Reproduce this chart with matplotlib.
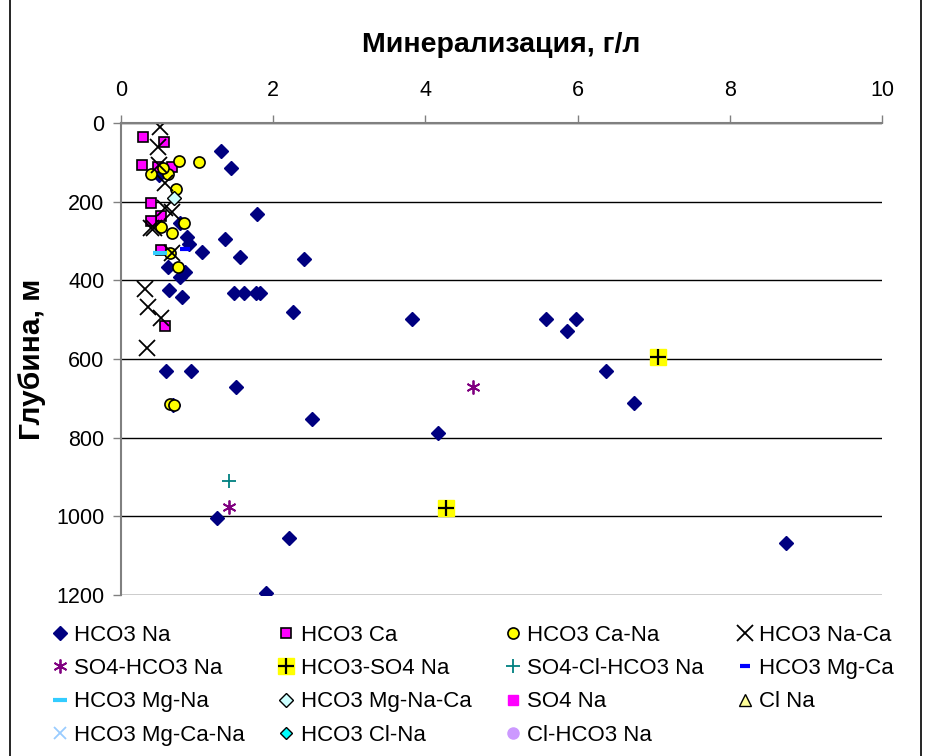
import matplotlib
matplotlib.use("Agg")
import matplotlib.pyplot as plt
from matplotlib.patches import Rectangle
from matplotlib.legend_handler import HandlerTuple

plt.rcParams['font.family'] = ['Liberation Sans', 'DejaVu Sans']

# минерализация (г/л) и глубина (м) по типам вод
hco3_na_x = [1.31, 1.45, 1.79, 1.37, 1.56, 1.07, 0.87, 0.90, 0.78, 0.50, 2.40, 0.62, 0.78,
             0.84, 0.63, 0.80, 1.49, 1.62, 1.77, 1.82, 2.26, 0.59, 0.92, 1.51, 0.68, 3.83,
             5.58, 5.98, 5.86, 6.37, 6.74, 4.17, 2.51, 1.26, 2.21, 1.91, 8.74]
hco3_na_y = [70, 115, 232, 296, 340, 327, 289, 308, 255, 133, 345, 365, 391,
             378, 425, 443, 431, 431, 431, 431, 481, 630, 630, 670, 716, 499,
             499, 499, 530, 630, 711, 789, 753, 1005, 1054, 1194, 1068]

hco3_ca_x = [0.29, 0.56, 0.27, 0.48, 0.67, 0.39, 0.53, 0.39, 0.53, 0.58]
hco3_ca_y = [35, 49, 108, 111, 113, 203, 236, 248, 323, 515]

hco3_cana_x = [0.76, 1.02, 0.39, 0.62, 0.55, 0.72, 0.83, 0.53, 0.67, 0.64, 0.75, 0.64, 0.70]
hco3_cana_y = [96, 99, 130, 130, 115, 167, 253, 265, 280, 330, 367, 714, 718]

hco3_naca_x = [0.51, 0.49, 0.50, 0.58, 0.58, 0.67, 0.40, 0.43, 0.67, 0.31, 0.36, 0.52, 0.34]
hco3_naca_y = [9, 60, 107, 153, 217, 225, 268, 268, 331, 422, 467, 497, 573]

so4_hco3_na_x = [4.63, 1.42]
so4_hco3_na_y = [670, 977]

hco3_so4_na_x = [7.06, 4.27]
hco3_so4_na_y = [594, 980]

so4_cl_hco3_na_x = [1.42]
so4_cl_hco3_na_y = [910]

hco3_mgca_x = [0.84]
hco3_mgca_y = [320]

hco3_mgna_x = [0.51]
hco3_mgna_y = [330]

hco3_mgnaca_x = [0.69]
hco3_mgnaca_y = [191]

empty = []

fig = plt.figure(figsize=(9.32, 7.56), dpi=100)
ax = fig.add_axes([121/932, 1 - 595/756, (882 - 121)/932, (595 - 123)/756])

navy = '#000080'
h1, = ax.plot(hco3_na_x, hco3_na_y, 'D', ms=7.5, color=navy, mec=navy, ls='none', label='HCO3 Na')
h2, = ax.plot(hco3_ca_x, hco3_ca_y, 's', ms=7, mfc='#FF00FF', mec='black', mew=1.2, ls='none', label='HCO3 Ca')
h3, = ax.plot(hco3_cana_x, hco3_cana_y, 'o', ms=8, mfc='#FFFF00', mec='black', mew=1.2, ls='none', label='HCO3 Ca-Na')
h4, = ax.plot(hco3_naca_x, hco3_naca_y, 'x', ms=11, color='black', mew=1.3, ls='none', label='HCO3 Na-Ca')
h5, = ax.plot(so4_hco3_na_x, so4_hco3_na_y, marker=(6, 2, 0), ms=10, color='#800080', mew=1.3, ls='none', label='SO4-HCO3 Na')
h6a, = ax.plot(hco3_so4_na_x, hco3_so4_na_y, 's', ms=12, mfc='#FFFF00', mec='#FFFF00', ls='none')
h6b, = ax.plot(hco3_so4_na_x, hco3_so4_na_y, '+', ms=11, color='black', mew=1.6, ls='none')
h7, = ax.plot(so4_cl_hco3_na_x, so4_cl_hco3_na_y, '+', ms=10, color='#008080', mew=1.3, ls='none', label='SO4-Cl-HCO3 Na')
h8, = ax.plot(hco3_mgca_x, hco3_mgca_y, '_', ms=7, color='#0000FF', mew=3, ls='none', label='HCO3 Mg-Ca')
h9, = ax.plot(hco3_mgna_x, hco3_mgna_y, '_', ms=10, color='#33CCFF', mew=3, ls='none', label='HCO3 Mg-Na')
h10, = ax.plot(hco3_mgnaca_x, hco3_mgnaca_y, 'D', ms=7, mfc='#CCFFFF', mec='black', mew=1, ls='none', label='HCO3 Mg-Na-Ca')
h11, = ax.plot(empty, empty, 's', ms=7, color='#FF00FF', ls='none', label='SO4 Na')
h12, = ax.plot(empty, empty, '^', ms=8, mfc='#FFFF99', mec='black', ls='none', label='Cl Na')
h13, = ax.plot(empty, empty, 'x', ms=9, color='#99CCFF', mew=1.3, ls='none', label='HCO3 Mg-Ca-Na')
h14, = ax.plot(empty, empty, 'D', ms=6, mfc='#00FFFF', mec='black', ls='none', label='HCO3 Cl-Na')
h15, = ax.plot(empty, empty, 'o', ms=8, color='#CC99FF', ls='none', label='Cl-HCO3 Na')

ax.set_xlim(0, 10)
ax.set_ylim(1200, 0)
ax.set_xticks([0, 2, 4, 6, 8, 10])
ax.set_yticks([0, 200, 400, 600, 800, 1000, 1200])
ax.xaxis.tick_top()
ax.xaxis.set_label_position('top')
ax.tick_params(axis='x', direction='out', length=6, width=1, color='#808080', labelsize=15.5, pad=10)
ax.tick_params(axis='y', direction='out', length=6, width=1, color='#808080', labelsize=15.5, pad=6)
ax.grid(axis='y', color='black', lw=1)
ax.set_axisbelow(True)
for s in ['right', 'bottom']:
    ax.spines[s].set_visible(False)
for s in ['top', 'left']:
    ax.spines[s].set_color('#808080')
    ax.spines[s].set_linewidth(1.5)

ax.set_xlabel('Минерализация, г/л', fontsize=20.5, fontweight='bold', labelpad=20)
ax.set_ylabel('Глубина, м', fontsize=21.5, fontweight='bold', labelpad=7)

# легенда: строки по 4, порядок заполнения по столбцам
entries = [(h1, 'HCO3 Na'), (h2, 'HCO3 Ca'), (h3, 'HCO3 Ca-Na'), (h4, 'HCO3 Na-Ca'),
           (h5, 'SO4-HCO3 Na'), ((h6a, h6b), 'HCO3-SO4 Na'), (h7, 'SO4-Cl-HCO3 Na'), (h8, 'HCO3 Mg-Ca'),
           (h9, 'HCO3 Mg-Na'), (h10, 'HCO3 Mg-Na-Ca'), (h11, 'SO4 Na'), (h12, 'Cl Na'),
           (h13, 'HCO3 Mg-Ca-Na'), (h14, 'HCO3 Cl-Na'), (h15, 'Cl-HCO3 Na')]
order = [0, 4, 8, 12, 1, 5, 9, 13, 2, 6, 10, 14, 3, 7, 11]
handles = [entries[i][0] for i in order]
labels = [entries[i][1] for i in order]
fig.legend(handles, labels, ncol=4, loc='upper left', bbox_to_anchor=(31/932, 1 - 605/756),
           frameon=False, fontsize=16, handlelength=0.8, handletextpad=0.25,
           columnspacing=1.45, labelspacing=0.55,
           handler_map={tuple: HandlerTuple(ndivide=1)})

fig.patches.append(Rectangle((10/932, -0.01), (921 - 10)/932, 1.02, transform=fig.transFigure,
                             fill=False, edgecolor='black', lw=1.2))

fig.savefig('out.png', dpi=100)
